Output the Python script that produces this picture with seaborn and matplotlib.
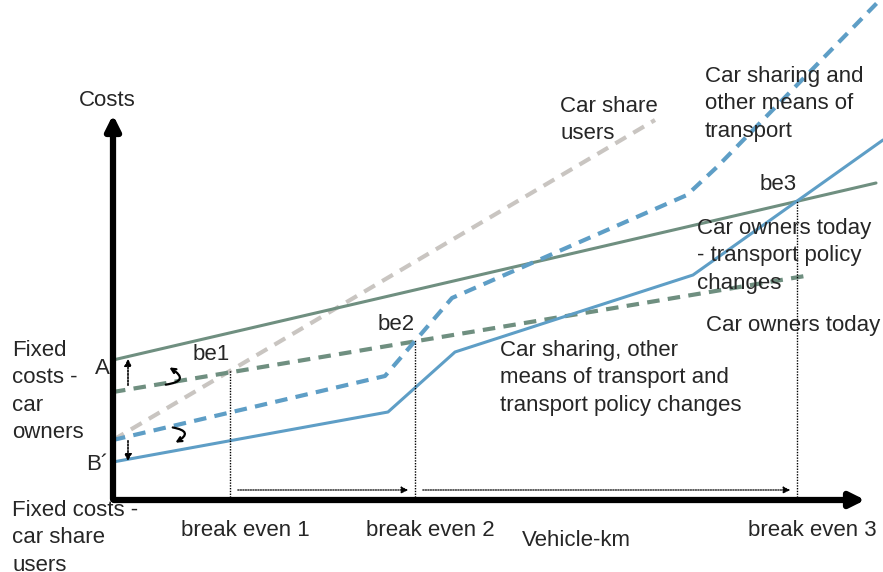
import numpy as np
import pandas as pd
import matplotlib
matplotlib.use("Agg")
import matplotlib.pyplot as plt
import seaborn as sns

# series (x = vehicle-km, y = costs, arbitrary units)
owners_x = [0, 763]
owners_y = [140, 317]
owners_policy_x = [0, 692]
owners_policy_y = [108, 224]
share_users_x = [0, 542]
share_users_y = [60, 380]
sharing_policy_x = [0, 275, 342, 580, 770]
sharing_policy_y = [38, 88, 148, 225, 360]
sharing_other_x = [0, 272, 339, 574, 604, 764]
sharing_other_y = [60, 124, 202, 305, 333, 497]

break_even_x = [117, 302, 684]
break_even_y = [130, 160, 300]
break_even_labels = ["be1", "be2", "be3"]
tick_labels = ["break even 1", "break even 2", "break even 3"]

GREEN = "#6f8f80"
BLUE = "#5e9ec6"
GREY = "#c9c5c1"

sns.set_theme(style="white")
plt.rcParams['font.family'] = ['Liberation Sans', 'DejaVu Sans']

fig = plt.figure(figsize=(8.83, 5.72), dpi=100)
ax = fig.add_axes([0, 0, 1, 1])
ax.set_xlim(-113, 770)
ax.set_ylim(-72, 500)
ax.axis("off")

sns.lineplot(x=share_users_x, y=share_users_y, ax=ax, color=GREY, lw=3, linestyle=(0, (3, 2)))
sns.lineplot(x=owners_x, y=owners_y, ax=ax, color=GREEN, lw=2.2)
sns.lineplot(x=owners_policy_x, y=owners_policy_y, ax=ax, color=GREEN, lw=3, linestyle=(0, (3, 2)))
sns.lineplot(x=sharing_policy_x, y=sharing_policy_y, ax=ax, color=BLUE, lw=2.2)
sns.lineplot(x=sharing_other_x, y=sharing_other_y, ax=ax, color=BLUE, lw=3, linestyle=(0, (3, 2)))

# break-even verticals
for bx, by in zip(break_even_x, break_even_y):
    ax.plot([bx, bx], [0, by], color="black", lw=1, linestyle=(0, (1, 1)))

# dotted arrows between break-even points
for x0, x1 in zip(break_even_x[:-1], break_even_x[1:]):
    ax.annotate("", xy=(x1 - 4, 10), xytext=(x0 + 5, 10),
                arrowprops=dict(arrowstyle="-|>", color="black", lw=0.9,
                                linestyle=(0, (1, 1)), mutation_scale=10))

# axes arrows
ax.annotate("", xy=(0, 388), xytext=(0, -2),
            arrowprops=dict(arrowstyle="-|>", color="black", lw=4.5, mutation_scale=22))
ax.annotate("", xy=(755, 0), xytext=(-2, 0),
            arrowprops=dict(arrowstyle="-|>", color="black", lw=4.5, mutation_scale=22))

# small shift arrows
ax.annotate("", xy=(15, 144), xytext=(15, 112),
            arrowprops=dict(arrowstyle="-|>", color="black", lw=1.2,
                            linestyle=(0, (1, 1)), mutation_scale=10))
ax.annotate("", xy=(15, 36), xytext=(15, 62),
            arrowprops=dict(arrowstyle="-|>", color="black", lw=1.2,
                            linestyle=(0, (1, 1)), mutation_scale=10))
ax.annotate("", xy=(54, 134), xytext=(50, 115),
            arrowprops=dict(arrowstyle="->", color="black", lw=1.6,
                            connectionstyle="arc3,rad=1.5", mutation_scale=8))
ax.annotate("", xy=(60, 56), xytext=(57, 73),
            arrowprops=dict(arrowstyle="->", color="black", lw=1.6,
                            connectionstyle="arc3,rad=-1.5", mutation_scale=8))

fs = 16
ls = 1.4
ax.text(-6, 400, "Costs", fontsize=fs, ha="center", va="center")
ax.text(447, 404, "Car share\nusers", fontsize=fs, ha="left", va="top", linespacing=ls)
ax.text(592, 434, "Car sharing and\nother means of\ntransport", fontsize=fs,
        ha="left", va="top", linespacing=ls)
ax.text(584, 282, "Car owners today\n- transport policy\nchanges", fontsize=fs,
        ha="left", va="top", linespacing=ls)
ax.text(593, 175, "Car owners today", fontsize=fs, ha="left", va="center")
ax.text(387, 160, "Car sharing, other\nmeans of transport and\ntransport policy changes",
        fontsize=fs, ha="left", va="top", linespacing=ls)
for bx, by, lab in zip(break_even_x, break_even_y, break_even_labels):
    ax.text(bx, by + 5, lab, fontsize=fs, ha="right", va="bottom")
ax.text(-3, 132, "A", fontsize=fs, ha="right", va="center")
ax.text(-5, 35, "B´", fontsize=fs, ha="right", va="center")
ax.text(-101, 160, "Fixed\ncosts -\ncar\nowners", fontsize=fs, ha="left", va="top",
        linespacing=ls)
ax.text(-101, 0, "Fixed costs -\ncar share\nusers", fontsize=fs, ha="left", va="top",
        linespacing=ls)
for bx, lab in zip(break_even_x, tick_labels):
    ax.text(bx + 15, -30, lab, fontsize=fs, ha="center", va="center")
ax.text(463, -40, "Vehicle-km", fontsize=fs, ha="center", va="center")

fig.savefig("out.png", dpi=100)
